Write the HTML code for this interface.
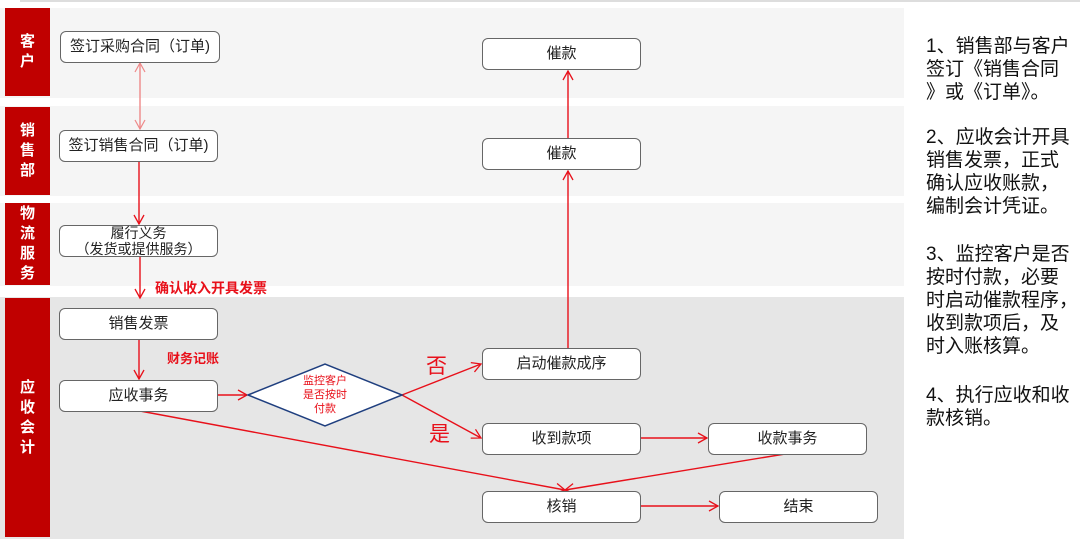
<!DOCTYPE html>
<html><head><meta charset="utf-8"><style>
body{margin:0;width:1080px;height:539px;background:#fff;position:relative;overflow:hidden;font-family:"Liberation Sans","Noto Sans CJK SC",sans-serif}
.lane{position:absolute;left:0;width:904px;background:#f5f5f5}
.bar{position:absolute;left:5px;width:45px;background:#c00000;color:#fff;font-weight:bold;font-size:15px;display:flex;align-items:center;justify-content:center;text-align:center;line-height:20px}
.box{position:absolute;background:#fff;border:1.5px solid #666;border-radius:6px;box-sizing:border-box;display:flex;align-items:center;justify-content:center;text-align:center;font-size:15px;color:#222;line-height:18px}
.lbl{position:absolute;color:#e8101a;font-weight:bold;font-size:14px}
.note{position:absolute;left:926px;font-size:19px;line-height:23px;color:#111}
</style></head><body>
<div style="position:absolute;left:20px;top:0;width:1060px;height:2px;background:#ddd"></div>
<div class="lane" style="top:8px;height:90px"></div>
<div class="lane" style="top:106px;height:90px"></div>
<div class="lane" style="top:203px;height:83px"></div>
<div class="lane" style="top:297px;height:242px;background:#e6e6e6"></div>
<div class="bar" style="top:8px;height:88px">客<br>户</div>
<div class="bar" style="top:107px;height:88px">销<br>售<br>部</div>
<div class="bar" style="top:203px;height:82px">物<br>流<br>服<br>务</div>
<div class="bar" style="top:298px;height:239px">应<br>收<br>会<br>计</div>

<svg style="position:absolute;left:0;top:0" width="1080" height="539">
<defs><marker id="a" markerWidth="12" markerHeight="12" refX="10" refY="6" orient="auto" markerUnits="userSpaceOnUse"><path d="M1,1 L10,6 L1,11" fill="none" stroke="#e8101a" stroke-width="1.3"/></marker>
<marker id="b" markerWidth="12" markerHeight="12" refX="10" refY="6" orient="auto-start-reverse" markerUnits="userSpaceOnUse"><path d="M1,1 L10,6 L1,11" fill="none" stroke="#e88" stroke-width="1.2"/></marker></defs>
<g stroke="#e8101a" stroke-width="1.4" fill="none">
<line x1="140" y1="63" x2="140" y2="129" stroke="#e88" marker-start="url(#b)" marker-end="url(#b)"/>
<line x1="139" y1="161" x2="139" y2="224" marker-end="url(#a)"/>
<line x1="140" y1="256" x2="140" y2="298" marker-end="url(#a)"/>
<line x1="139" y1="339" x2="139" y2="379" marker-end="url(#a)"/>
<line x1="218" y1="395" x2="247" y2="395" marker-end="url(#a)"/>
<line x1="402" y1="395" x2="481" y2="364" marker-end="url(#a)"/>
<line x1="402" y1="395" x2="481" y2="438" marker-end="url(#a)"/>
<line x1="568" y1="348" x2="568" y2="171" marker-end="url(#a)"/>
<line x1="568" y1="138" x2="568" y2="71" marker-end="url(#a)"/>
<line x1="641" y1="438" x2="707" y2="438" marker-end="url(#a)"/>
<line x1="641" y1="506" x2="718" y2="506" marker-end="url(#a)"/>
<line x1="140" y1="411" x2="565" y2="490" marker-end="url(#a)"/>
<line x1="785" y1="454" x2="565" y2="490" marker-end="url(#a)"/>
</g>
<polygon points="248,395 325,364 402,395 325,426" fill="#fff" stroke="#1f3f7f" stroke-width="1.5"/>
<text x="325" y="384" font-size="11" fill="#e8101a" text-anchor="middle">监控客户</text>
<text x="325" y="398" font-size="11" fill="#e8101a" text-anchor="middle">是否按时</text>
<text x="325" y="412" font-size="11" fill="#e8101a" text-anchor="middle">付款</text>
<text x="426" y="373" font-size="21" fill="#e8101a">否</text>
<text x="429" y="441" font-size="21" fill="#e8101a">是</text>
</svg>

<div class="box" style="left:60px;top:31px;width:160px;height:32px">签订采购合同（订单)</div>
<div class="box" style="left:59px;top:130px;width:159px;height:32px">签订销售合同（订单)</div>
<div class="box" style="left:59px;top:225px;width:159px;height:32px;font-size:14px;line-height:16px">履行义务<br>（发货或提供服务）</div>
<div class="box" style="left:59px;top:308px;width:159px;height:32px">销售发票</div>
<div class="box" style="left:59px;top:380px;width:159px;height:32px">应收事务</div>
<div class="box" style="left:482px;top:38px;width:159px;height:32px">催款</div>
<div class="box" style="left:482px;top:138px;width:159px;height:32px">催款</div>
<div class="box" style="left:482px;top:348px;width:159px;height:32px">启动催款成序</div>
<div class="box" style="left:482px;top:423px;width:159px;height:32px">收到款项</div>
<div class="box" style="left:708px;top:423px;width:159px;height:32px">收款事务</div>
<div class="box" style="left:482px;top:491px;width:159px;height:32px">核销</div>
<div class="box" style="left:719px;top:491px;width:159px;height:32px">结束</div>
<div class="lbl" style="left:155px;top:278px">确认收入开具发票</div>
<div class="lbl" style="left:167px;top:348px;font-size:13px">财务记账</div>

<div class="note" style="top:35px">1、销售部与客户<br>签订《销售合同<br>》或《订单》。</div>
<div class="note" style="top:126px">2、应收会计开具<br>销售发票，正式<br>确认应收账款，<br>编制会计凭证。</div>
<div class="note" style="top:243px">3、监控客户是否<br>按时付款，必要<br>时启动催款程序，<br>收到款项后，及<br>时入账核算。</div>
<div class="note" style="top:384px">4、执行应收和收<br>款核销。</div>
</body></html>
